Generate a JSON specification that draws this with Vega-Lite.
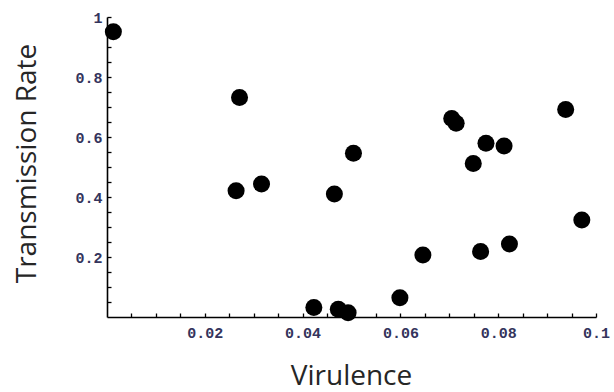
{
  "$schema": "https://vega.github.io/schema/vega-lite/v6.json",
  "autosize": {"type": "none"},
  "width": 489,
  "height": 300,
  "padding": {"left": 107, "top": 17, "right": 18, "bottom": 75},
  "background": "white",
  "config": {"view": {"stroke": null}},
  "data": {
    "values": [
      {"virulence": 0.0013, "transmission": 0.951},
      {"virulence": 0.0271, "transmission": 0.732},
      {"virulence": 0.0264, "transmission": 0.421},
      {"virulence": 0.0316, "transmission": 0.443},
      {"virulence": 0.0504, "transmission": 0.546},
      {"virulence": 0.0465, "transmission": 0.41},
      {"virulence": 0.0705, "transmission": 0.662},
      {"virulence": 0.0714, "transmission": 0.646},
      {"virulence": 0.0775, "transmission": 0.579},
      {"virulence": 0.0812, "transmission": 0.57},
      {"virulence": 0.0749, "transmission": 0.512},
      {"virulence": 0.0938, "transmission": 0.692},
      {"virulence": 0.0971, "transmission": 0.323},
      {"virulence": 0.0823, "transmission": 0.243},
      {"virulence": 0.0764, "transmission": 0.218},
      {"virulence": 0.0646, "transmission": 0.207},
      {"virulence": 0.0599, "transmission": 0.064},
      {"virulence": 0.0423, "transmission": 0.032},
      {"virulence": 0.0473, "transmission": 0.026},
      {"virulence": 0.0493, "transmission": 0.014}
    ]
  },
  "mark": {"type": "circle", "size": 290, "color": "black", "opacity": 1},
  "encoding": {
    "x": {
      "field": "virulence",
      "type": "quantitative",
      "scale": {"domain": [0, 0.1], "nice": false, "zero": false},
      "axis": {
        "title": "Virulence",
        "values": [0.005, 0.01, 0.015, 0.02, 0.025, 0.03, 0.035, 0.04, 0.045, 0.05, 0.055, 0.06, 0.065, 0.07, 0.075, 0.08, 0.085, 0.09, 0.095, 0.1],
        "labelExpr": "abs(datum.value * 50 - round(datum.value * 50)) < 0.001 ? format(datum.value, '~g') : ''",
        "grid": false,
        "domainColor": "black",
        "domainWidth": 1.6,
        "tickColor": "black",
        "tickWidth": 1.3,
        "tickSize": -4,
        "labelPadding": 12,
        "labelFont": "Liberation Mono",
        "labelFontSize": 15,
        "labelFontWeight": "bold",
        "labelColor": "#34345c",
        "labelFlush": false,
        "labelOverlap": false,
        "titleFont": "Open Sans",
        "titleFontSize": 28,
        "titleFontWeight": "normal",
        "titleColor": "#262626",
        "titleX": 244,
        "titleY": 67,
        "titleBaseline": "alphabetic",
        "titleAnchor": "middle"
      }
    },
    "y": {
      "field": "transmission",
      "type": "quantitative",
      "scale": {"domain": [0, 1], "nice": false, "zero": false},
      "axis": {
        "title": "Transmission Rate",
        "values": [0.05, 0.1, 0.15, 0.2, 0.25, 0.3, 0.35, 0.4, 0.45, 0.5, 0.55, 0.6, 0.65, 0.7, 0.75, 0.8, 0.85, 0.9, 0.95, 1],
        "labelExpr": "abs(datum.value * 5 - round(datum.value * 5)) < 0.001 ? format(datum.value, '~g') : ''",
        "grid": false,
        "domainColor": "black",
        "domainWidth": 1.6,
        "tickColor": "black",
        "tickWidth": 1.3,
        "tickSize": -4,
        "labelPadding": 9,
        "labelFont": "Liberation Mono",
        "labelFontSize": 15,
        "labelFontWeight": "bold",
        "labelColor": "#34345c",
        "labelFlush": false,
        "labelOverlap": false,
        "titleFont": "Open Sans",
        "titleFontSize": 28,
        "titleFontWeight": "normal",
        "titleColor": "#262626",
        "titleX": -72,
        "titleY": 146,
        "titleAngle": -90,
        "titleBaseline": "alphabetic",
        "titleAnchor": "middle",
        "titleAlign": "center"
      }
    }
  }
}
